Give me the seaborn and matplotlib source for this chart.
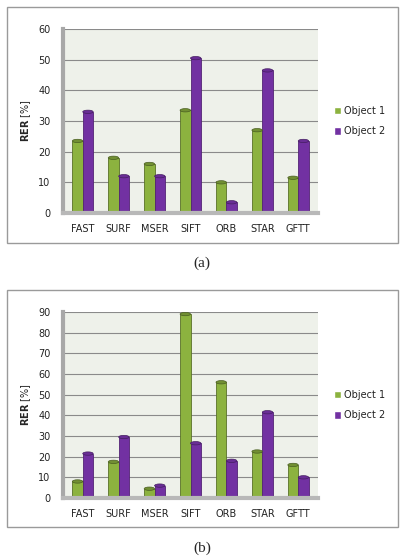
import pandas as pd
import numpy as np
import matplotlib
matplotlib.use("Agg")
import matplotlib.pyplot as plt
import seaborn as sns
from matplotlib.patches import Rectangle, Ellipse

# data
detectors = ['FAST', 'SURF', 'MSER', 'SIFT', 'ORB', 'STAR', 'GFTT']
series = ['Object 1', 'Object 2']

rer_a_obj1 = [23.5, 18, 16, 33.5, 10, 27, 11.5]
rer_a_obj2 = [33, 12, 12, 50.5, 3.5, 46.5, 23.5]

rer_b_obj1 = [8, 17.5, 4.5, 89, 56, 22.5, 16]
rer_b_obj2 = [21.5, 29.5, 6, 26.5, 18, 41.5, 10]

yticks_a = list(range(0, 61, 10))
yticks_b = list(range(0, 91, 10))
captions = ['(a)', '(b)']

green = '#8cb23f'
purple = '#7231a2'
wall = '#eef1ea'

sns.set_theme(style='white')
plt.rcParams['font.family'] = ['DejaVu Sans']


def make_df(o1, o2):
    return pd.DataFrame({
        'detector': detectors * 2,
        'series': [series[0]] * 7 + [series[1]] * 7,
        'rer': o1 + o2,
    })


fig = plt.figure(figsize=(4.04, 5.6), dpi=100)
W, H = 404, 560


def px_axes(x0, y_top, x1, y_bot):
    return fig.add_axes([x0 / W, 1 - y_bot / H, (x1 - x0) / W, (y_bot - y_top) / H])


def draw_panel(ax, df, yticks, box, caption_y, caption):
    # panel frame
    bx0, by0, bx1, by1 = box
    fig.patches.append(Rectangle((bx0 / W, 1 - by1 / H), (bx1 - bx0) / W, (by1 - by0) / H,
                                 transform=fig.transFigure, fill=False,
                                 edgecolor='#9a9a9a', lw=1.0))
    fig.text(0.5, 1 - caption_y / H, caption, ha='center', va='center',
             fontsize=11, family='Liberation Serif')

    sns.barplot(data=df, x='detector', y='rer', hue='series', order=detectors,
                hue_order=series, palette=[green, purple], width=0.58,
                saturation=1, ax=ax, legend=True)
    ymax = yticks[-1]
    ax.set_ylim(0, ymax)
    ax.set_xlim(-0.55, 6.55)
    ax.set_facecolor(wall)
    ax.set_yticks(yticks)
    ax.yaxis.grid(True, color='#8a8a8a', lw=0.8)
    ax.set_axisbelow(True)
    for s in ['top', 'right']:
        ax.spines[s].set_visible(False)
    ax.spines['left'].set_color('#a8a8a8')
    ax.spines['left'].set_linewidth(3)
    ax.spines['bottom'].set_color('#b8b8b8')
    ax.spines['bottom'].set_linewidth(3)
    ax.tick_params(axis='y', length=0, labelsize=7, colors='#222222', pad=9)
    ax.tick_params(axis='x', length=0, labelsize=7, colors='#222222', pad=8)
    ax.set_xlabel('')
    ax.set_ylabel(r'$\mathbf{RER}$ [%]', fontsize=7, labelpad=4)

    # cylinder look: darker edges and elliptical caps
    cap_h = ymax * 0.018
    for p, col in zip(ax.patches, [green] * 7 + [purple] * 7):
        if p.get_height() <= 0:
            continue
        p.set_edgecolor(sns.set_hls_values(col, l=0.3))
        p.set_linewidth(0.6)
        x = p.get_x() + p.get_width() / 2
        ax.add_patch(Ellipse((x, p.get_height()), p.get_width(), cap_h,
                             facecolor=sns.set_hls_values(col, l=0.38),
                             edgecolor=sns.set_hls_values(col, l=0.25), lw=0.5,
                             zorder=3))

    leg = ax.legend(loc='center left', bbox_to_anchor=(1.03, 0.5), frameon=False,
                    fontsize=7, handlelength=0.7, handleheight=0.8,
                    handletextpad=0.25, labelspacing=1.1)
    for t in leg.get_texts():
        t.set_color('#222222')


ax_a = px_axes(63, 29, 318, 213)
draw_panel(ax_a, make_df(rer_a_obj1, rer_a_obj2), yticks_a, (7, 7, 398, 243), 263, captions[0])

ax_b = px_axes(63, 312, 318, 498)
draw_panel(ax_b, make_df(rer_b_obj1, rer_b_obj2), yticks_b, (7, 290, 398, 527), 548, captions[1])

fig.savefig('out.png', dpi=100, facecolor='white')
